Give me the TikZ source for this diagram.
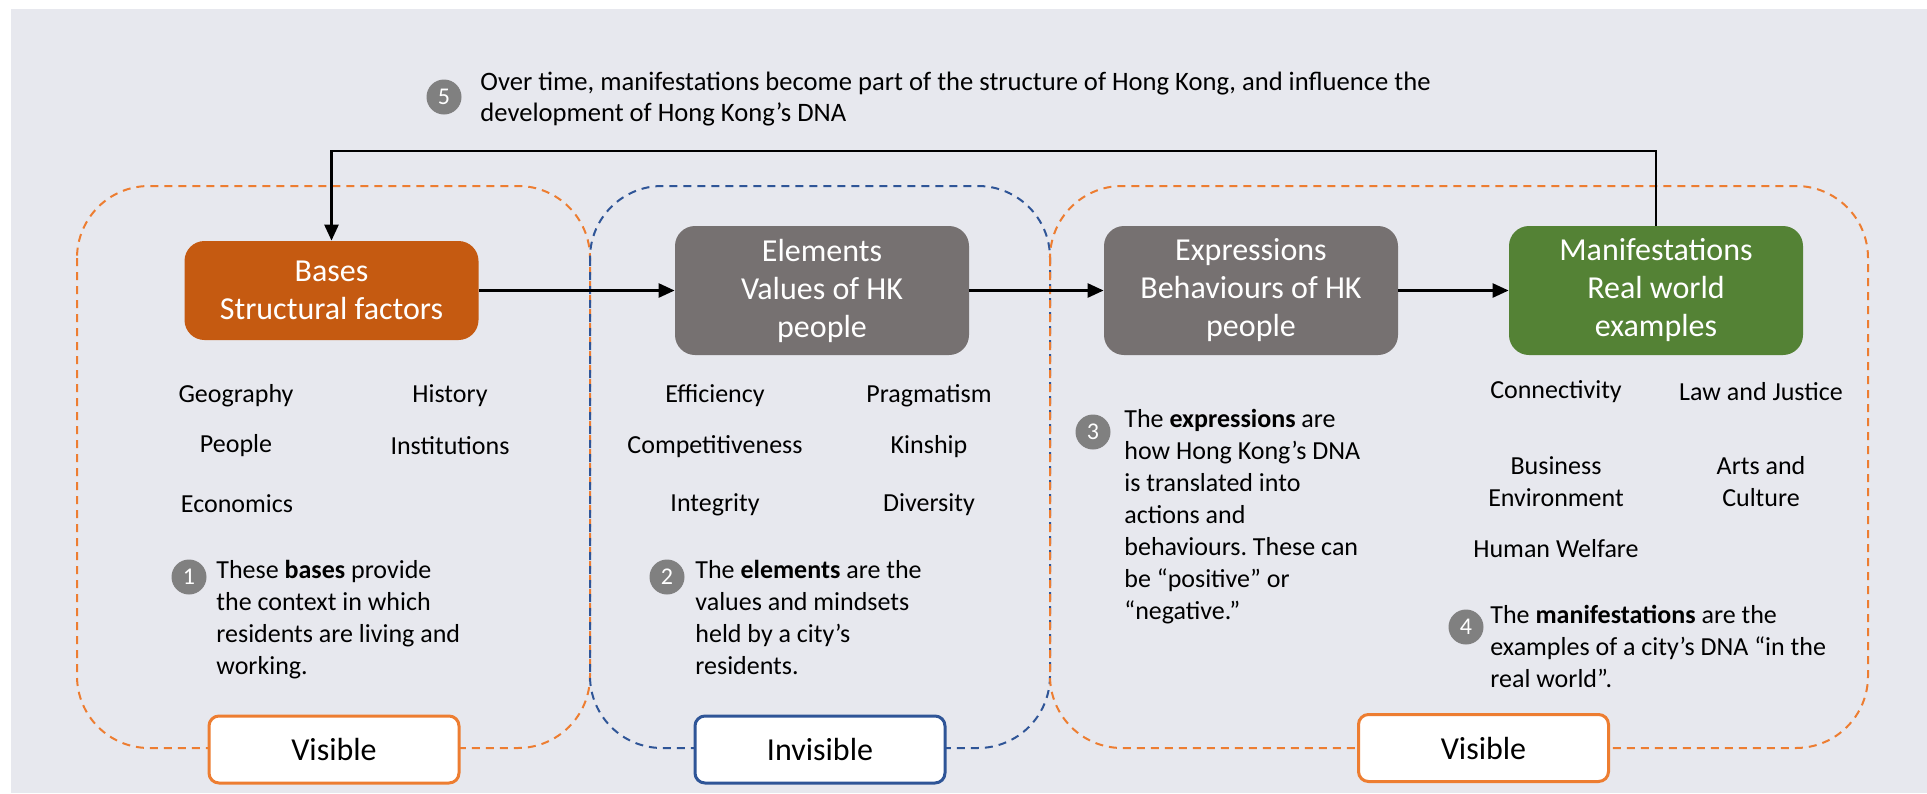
\documentclass[tikz,border=0pt]{standalone}
\usepackage{fontspec}
\setmainfont{Carlito}
\usetikzlibrary{arrows.meta}
\frenchspacing

\definecolor{bgcol}{RGB}{231,232,238}
\definecolor{visorange}{RGB}{237,125,49}
\definecolor{invblue}{RGB}{47,85,151}
\definecolor{basecol}{RGB}{197,90,17}
\definecolor{stagegray}{RGB}{118,113,113}
\definecolor{maniGreen}{RGB}{84,130,53}
\definecolor{numcol}{RGB}{128,128,128}

\begin{document}
\begin{tikzpicture}[x=0.5pt, y=-0.5pt,
    stage/.style={rounded corners=10pt, text=white, align=center, minimum width=147pt,
      minimum height=64.5pt, font=\fontsize{16}{19}\selectfont},
    flow/.style={line width=1.3pt, -{Triangle[length=8pt, width=7pt]}},
    item/.style={font=\fontsize{13}{16}\selectfont, align=center},
    note/.style={font=\fontsize{13}{16}\selectfont, align=left, anchor=north west, inner sep=0pt},
    num/.style={circle, fill=numcol, text=white, minimum size=17.5pt, inner sep=0pt,
      font=\fontsize{12}{12}\selectfont},
    region/.style={line width=1pt, dash pattern=on 4pt off 3pt, rounded corners=36pt},
    tag/.style={draw, line width=1.5pt, fill=white, rounded corners=5pt, minimum width=125pt,
      minimum height=33.5pt, font=\fontsize{16}{19}\selectfont}]

  \useasboundingbox (0,0) rectangle (1927,793);
  \fill[bgcol] (11,9) rectangle (1927,793);

  % Regions
  \draw[region, visorange] (77,186) rectangle (590,748);
  \draw[region, invblue] (590,186) rectangle (1050,748);
  \draw[region, visorange] (1050,186) rectangle (1868,748);

  \node[tag, draw=visorange] (vis-1) at (334,749.5) {Visible};
  \node[tag, draw=invblue] (invis) at (820,749.5) {Invisible};
  \node[tag, draw=visorange] (vis-2) at (1483.5,748) {Visible};

  % Stages
  \node[stage, fill=basecol, minimum height=49.5pt] (bases) at (331.5,290.5) {Bases\\Structural factors};
  \node[stage, fill=stagegray] (elements) at (822,290.5) {Elements\\Values of HK\\people};
  \node[stage, fill=stagegray] (expressions) at (1251,290.5) {Expressions\\Behaviours of HK\\people};
  \node[stage, fill=maniGreen] (manif) at (1656,290.5) {Manifestations\\Real world\\examples};

  \draw[flow] (bases) -- (elements);
  \draw[flow] (elements) -- (expressions);
  \draw[flow] (expressions) -- (manif);

  % Feedback loop
  \coordinate (loop) at (331.5,151);
  \draw[flow] (manif.north) |- (loop) -- (bases.north);

  % Bases items
  \foreach \name/\x/\y [count=\i] in {Geography/236/396, History/450/396, People/236/446,
      Institutions/450/446, Economics/237/504}
    \node[item] (b-\i) at (\x,\y) {\name};

  % Elements items
  \foreach \name/\x/\y [count=\i] in {Efficiency/715/396, Pragmatism/929/396,
      Competitiveness/715/447, Kinship/929/447, Integrity/715/505, Diversity/929/505}
    \node[item] (e-\i) at (\x,\y) {\name};

  % Manifestation items
  \foreach \name/\x/\y [count=\i] in {Connectivity/1556/392, Law and Justice/1761/392,
      Business\\Environment/1556/482, Arts and\\Culture/1761/482, Human Welfare/1556/549}
    \node[item] (m-\i) at (\x,\y) {\name};

  % Notes
  \node[num] (n-1) at (189,577) {1};
  \node[note] (t-1) at (216,560) {These \textbf{bases} provide\\the context in which\\residents are living and\\working.};

  \node[num] (n-2) at (667,577) {2};
  \node[note] (t-2) at (695,560) {The \textbf{elements} are the\\values and mindsets\\held by a city’s\\residents.};

  \node[num] (n-3) at (1093,432) {3};
  \node[note] (t-3) at (1124,409) {The \textbf{expressions} are\\how Hong Kong’s DNA\\is translated into\\actions and\\behaviours. These can\\be “positive” or\\“negative.”};

  \node[num] (n-4) at (1466,627) {4};
  \node[note] (t-4) at (1490,605) {The \textbf{manifestations} are the\\examples of a city’s DNA “in the\\real world”.};

  \node[num] (n-5) at (444,97) {5};
  \node[note, font=\fontsize{13.3}{15.5}\selectfont] (t-5) at (480,72) {Over time, manifestations become part of the structure of Hong Kong, and influence the\\development of Hong Kong’s DNA};

\end{tikzpicture}
\end{document}
